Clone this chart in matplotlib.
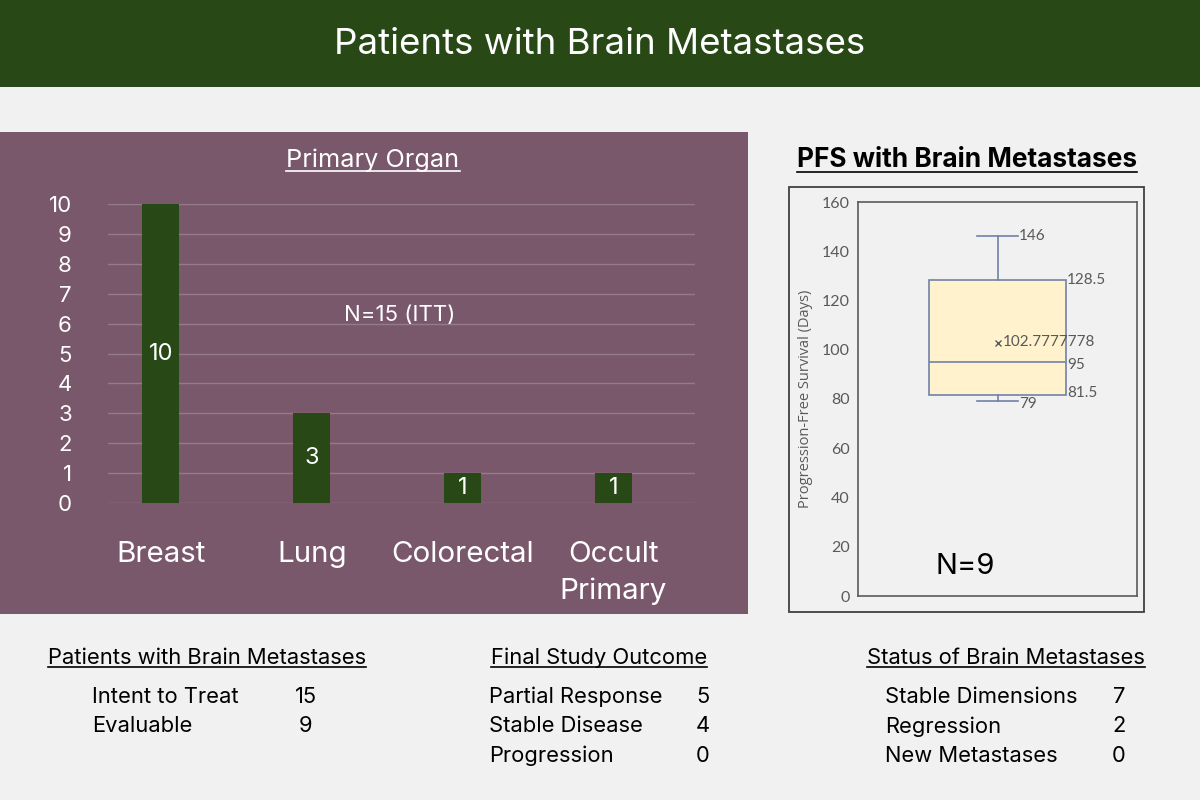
import numpy as np
import matplotlib
matplotlib.use('Agg')
import matplotlib.pyplot as plt
from matplotlib.patches import Rectangle
from matplotlib.lines import Line2D

plt.rcParams['font.family'] = ['Inter', 'DejaVu Sans']

# data
organs = ['Breast', 'Lung', 'Colorectal', 'Occult\nPrimary']
counts = [10, 3, 1, 1]
n_itt = 'N=15 (ITT)'

pfs_min, pfs_q1, pfs_med, pfs_q3, pfs_max = 79, 81.5, 95, 128.5, 146
pfs_mean = 102.7777778
n_eval = 'N=9'

pat_labels = ['Intent to Treat', 'Evaluable']
pat_values = [15, 9]
outcome_labels = ['Partial Response', 'Stable Disease', 'Progression']
outcome_values = [5, 4, 0]
status_labels = ['Stable Dimensions', 'Regression', 'New Metastases']
status_values = [7, 2, 0]

# colours
bg = '#f1f1f1'
green = '#284816'
purple = '#7a586c'
grid_c = '#947a8a'
box_fill = '#fff2cc'
box_edge = '#6f82a6'
gray_txt = '#595959'

W, H = 1200, 800
fig = plt.figure(figsize=(12, 8), dpi=100)
fig.patch.set_facecolor(bg)

def fx(px):
    return px / W

def fy(py):
    return 1 - py / H

# header band
fig.patches.append(Rectangle((0, fy(87)), 1, 87 / H, transform=fig.transFigure,
                             facecolor=green, edgecolor='none', zorder=-5))
fig.text(0.5, fy(45), 'Patients with Brain Metastases', color='white',
         fontsize=26.4, ha='center', va='center')

# purple panel
fig.patches.append(Rectangle((0, fy(614)), fx(748), (614 - 132) / H, transform=fig.transFigure,
                             facecolor=purple, edgecolor='none', zorder=-5))

underlined = []

def utext(x, y, s, **kw):
    t = fig.text(x, y, s, **kw)
    underlined.append(t)
    return t

utext(fx(373), fy(160), 'Primary Organ', color='white', fontsize=18.2, ha='center', va='center')

# bar chart
ax = fig.add_axes([fx(108), fy(503), fx(695 - 108), (503 - 204) / H])
ax.set_facecolor('none')
xs = np.arange(len(organs))
ax.bar(xs, counts, width=0.245, color=green, zorder=3)
for x, c in zip(xs, counts):
    ax.text(x, c / 2, str(c), color='white', fontsize=17, ha='center', va='center', zorder=4)
ax.set_xlim(-0.35, 3.54)
ax.set_ylim(0, 10)
ax.set_yticks(range(0, 11))
ax.set_xticks(xs)
ax.set_xticklabels(organs, fontsize=21.3, color='white', linespacing=1.45)
ax.tick_params(axis='y', labelsize=16, labelcolor='white', length=0, pad=26)
ax.tick_params(axis='x', length=0, pad=27)
ax.grid(axis='y', color=grid_c, lw=1, zorder=0)
for s in ax.spines.values():
    s.set_visible(False)
ax.text(1.58, 6.3, n_itt, color='white', fontsize=16, ha='center', va='center')

# box plot panel
fig.patches.append(Rectangle((fx(789), fy(612)), fx(1144 - 789), (612 - 187) / H,
                             transform=fig.transFigure, facecolor=bg,
                             edgecolor='#404040', lw=1.3, zorder=-5))
utext(fx(967), fy(160), 'PFS with Brain Metastases', color='black', fontsize=18.9,
      fontweight='bold', ha='center', va='center')

bx = fig.add_axes([fx(858), fy(596), fx(1137 - 858), (596 - 202) / H])
bx.set_facecolor(bg)
stats = [dict(med=pfs_med, q1=pfs_q1, q3=pfs_q3, whislo=pfs_min, whishi=pfs_max,
              mean=pfs_mean, fliers=[])]
bx.bxp(stats, positions=[1], widths=0.98, capwidths=0.29, patch_artist=True,
       showmeans=True,
       boxprops=dict(facecolor=box_fill, edgecolor=box_edge, lw=1.2),
       medianprops=dict(color=box_edge, lw=1.2),
       whiskerprops=dict(color=box_edge, lw=1.2),
       capprops=dict(color=box_edge, lw=1.2),
       meanprops=dict(marker='x', markeredgecolor=gray_txt, markersize=5, markeredgewidth=1))
bx.set_xlim(0, 2)
bx.set_ylim(0, 160)
bx.set_yticks(range(0, 161, 20))
bx.set_xticks([])
bx.tick_params(axis='y', length=0, labelsize=11.5, labelcolor=gray_txt, pad=6)
for lab in bx.get_yticklabels():
    lab.set_family(['Lato', 'DejaVu Sans'])
for s in bx.spines.values():
    s.set_color('#5a5a5a')
    s.set_linewidth(1.2)
bx.set_ylabel('Progression-Free Survival (Days)', fontsize=10.5, color=gray_txt,
              family=['Open Sans', 'DejaVu Sans'], labelpad=6)

lbl = dict(fontsize=11, color=gray_txt, va='center', family=['Lato', 'DejaVu Sans'])
bx.text(1.155, pfs_max, str(pfs_max), ha='left', **lbl)
bx.text(1.50, pfs_q3, str(pfs_q3), ha='left', **lbl)
bx.text(1.04, pfs_mean + 0.5, '%.7f' % pfs_mean, ha='left', **lbl)
bx.text(1.50, pfs_med - 1, str(pfs_med), ha='left', **lbl)
bx.text(1.50, pfs_q1 + 1, str(pfs_q1), ha='left', **lbl)
bx.text(1.155, pfs_min - 1, str(pfs_min), ha='left', **lbl)
bx.text(0.77, 12, n_eval, fontsize=21, color='black', ha='center', va='center')

# bottom tables
tfs = 15.8
utext(fx(48), fy(658), 'Patients with Brain Metastases', fontsize=tfs, ha='left', va='center')
for i, (l, v) in enumerate(zip(pat_labels, pat_values)):
    y = fy(697 + i * 29.5)
    fig.text(fx(92), y, l, fontsize=tfs, ha='left', va='center')
    fig.text(fx(306), y, str(v), fontsize=tfs, ha='center', va='center')

utext(fx(491), fy(658), 'Final Study Outcome', fontsize=tfs, ha='left', va='center')
for i, (l, v) in enumerate(zip(outcome_labels, outcome_values)):
    y = fy(697 + i * 29.5)
    fig.text(fx(489), y, l, fontsize=tfs, ha='left', va='center')
    fig.text(fx(703), y, str(v), fontsize=tfs, ha='center', va='center')

utext(fx(867), fy(658), 'Status of Brain Metastases', fontsize=tfs, ha='left', va='center')
for i, (l, v) in enumerate(zip(status_labels, status_values)):
    y = fy(697 + i * 29.5)
    fig.text(fx(885), y, l, fontsize=tfs, ha='left', va='center')
    fig.text(fx(1119), y, str(v), fontsize=tfs, ha='center', va='center')

# underlines under selected texts
renderer = fig.canvas.get_renderer()
for t in underlined:
    bb = t.get_window_extent(renderer)
    yy = (bb.y0 + 1) / fig.bbox.height
    fig.add_artist(Line2D([bb.x0 / fig.bbox.width, bb.x1 / fig.bbox.width], [yy, yy],
                          transform=fig.transFigure, color=t.get_color(), lw=1.2))

fig.savefig('out.png', dpi=100, facecolor=fig.get_facecolor())
